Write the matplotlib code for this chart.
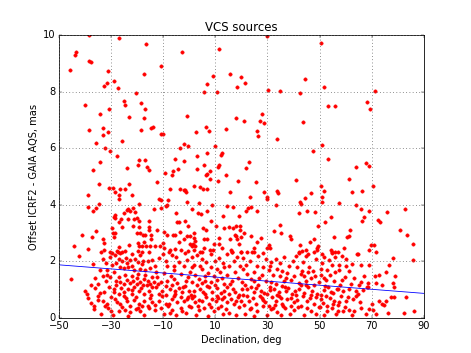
import numpy as np
import matplotlib
matplotlib.use("Agg")
import matplotlib.pyplot as plt

# (declination deg, offset mas), grouped by height band
pts_high = [
    (-38.6, 9.99), (-26.8, 9.88), (-16.5, 9.69), (-43.4, 9.40), (-43.7, 9.30), (-2.7, 9.41),
    (-38.4, 9.10), (-37.5, 9.03), (-45.6, 8.78), (-11.0, 8.91), (-31.2, 8.73), (-17.3, 8.64),
    (-28.7, 8.39), (-31.5, 8.32), (-32.7, 8.19), (-27.3, 8.11), (-20.4, 7.95), (-40.1, 7.51),
    (-25.2, 7.66), (-24.8, 7.53), (-18.5, 7.58), (-16.8, 7.39), (-30.8, 7.40), (-34.1, 7.19),
    (-23.0, 7.09), (-17.4, 7.05), (-38.3, 6.64), (-33.1, 6.71), (-31.3, 6.58), (-33.1, 6.47),
    (-18.4, 6.63), (-14.6, 6.71), (-13.8, 6.75), (-10.9, 6.49), (-9.9, 6.51), (-25.8, 6.24),
    (-35.8, 6.19), (-32.2, 5.99), (-30.4, 5.89), (-3.4, 5.99), (-2.1, 6.13), (-0.4, 6.09),
    (-27.7, 5.72), (-5.5, 5.63), (-1.9, 5.53), (-34.2, 5.51), (-19.4, 5.58), (-17.1, 5.58),
    (-19.8, 5.40), (-16.2, 5.33), (-15.6, 5.22), (-23.9, 5.31), (-36.9, 5.24), (-9.3, 5.13),
    (-6.3, 5.19), (-4.4, 5.26), (-6.5, 5.05),
    (29.7, 9.96), (11.6, 9.49), (44.3, 8.44), (15.7, 8.61), (19.9, 8.50), (9.2, 8.54),
    (21.4, 8.29), (7.0, 8.26), (18.5, 8.15), (5.5, 7.99), (10.8, 8.00), (30.2, 8.06),
    (34.7, 8.03), (42.4, 7.94), (-0.8, 7.15), (17.9, 7.08), (21.0, 6.96), (27.8, 7.20),
    (27.1, 6.96), (28.8, 6.88), (43.5, 6.91), (6.6, 6.74), (7.6, 6.62), (2.5, 6.57),
    (14.0, 6.66), (26.0, 6.62), (26.4, 6.43), (33.7, 6.34), (9.9, 6.07), (2.9, 5.72),
    (6.9, 5.82), (12.4, 5.82), (12.1, 5.76), (5.6, 5.41), (23.1, 5.52), (11.6, 5.39),
    (11.1, 5.34), (2.8, 5.27), (21.8, 5.28), (8.1, 5.20), (6.9, 5.08), (6.4, 5.05), (14.2, 5.05),
    (50.7, 9.72), (51.7, 8.16), (71.2, 8.03), (68.2, 7.62), (53.1, 7.49), (55.8, 7.49),
    (69.2, 7.39), (50.8, 6.11), (47.5, 5.89), (53.3, 5.61), (63.8, 5.34), (67.8, 5.46),
    (68.8, 5.38),
]

pts_mid = [
    (-12.3, 4.81), (-34.6, 4.72), (-30.8, 4.60), (-29.2, 4.60), (-26.4, 4.55), (-24.8, 4.54),
    (-28.4, 4.46), (-23.1, 4.72), (-7.2, 4.54), (-3.4, 4.54), (-38.7, 4.33), (-26.9, 4.34),
    (-26.9, 4.21), (-22.1, 4.33), (-11.5, 4.21), (-10.7, 4.17), (-8.3, 4.18), (-1.8, 4.51),
    (-34.6, 4.04), (-38.7, 3.93), (-37.1, 3.79), (-35.6, 3.88), (-19.3, 4.02), (-13.5, 3.85),
    (-10.9, 3.87), (-9.1, 3.95), (-8.4, 3.98), (-28.6, 3.63), (-29.0, 3.58), (-28.5, 3.54),
    (-25.2, 3.71), (-23.9, 3.82), (-23.4, 3.85), (-21.5, 3.87), (-20.8, 3.73), (-22.7, 3.77),
    (-19.9, 3.54), (-19.3, 3.41), (-26.1, 3.48), (-27.1, 3.38), (-23.3, 3.49), (-21.1, 3.48),
    (-15.3, 3.41), (-25.6, 3.22), (-21.6, 3.24), (-19.2, 3.20), (-15.4, 3.22), (-15.4, 3.11),
    (-12.4, 3.11), (-29.6, 3.16), (-4.7, 3.40), (-4.1, 3.40), (-5.0, 3.70), (-29.4, 2.99),
    (-28.6, 2.98), (-28.9, 2.86), (-41.1, 2.91), (-37.3, 2.85), (-35.9, 3.05), (-33.1, 2.79),
    (-32.8, 2.66), (-20.2, 3.01), (-18.8, 3.01), (-17.1, 2.93), (-17.6, 2.91), (-14.8, 2.92),
    (-14.7, 2.78), (-9.7, 3.04), (-8.4, 2.91), (-6.1, 2.91), (-5.4, 2.94), (-3.7, 3.04),
    (-3.9, 2.68), (-44.3, 2.54), (-38.7, 2.42), (-32.8, 2.40), (-27.1, 2.51), (-23.0, 2.56),
    (-19.6, 2.63), (-17.3, 2.67), (-18.0, 2.54), (-16.6, 2.53), (-19.2, 2.52), (-15.0, 2.52),
    (-13.0, 2.54), (-11.4, 2.54), (-10.2, 2.66), (-9.5, 2.45), (-7.2, 2.40), (-5.3, 2.44),
    (-3.2, 2.40), (-27.5, 2.34), (-25.7, 2.32), (-29.5, 2.30), (-19.7, 2.35), (-18.1, 2.34),
    (8.0, 4.92), (11.0, 4.83), (18.7, 4.83), (25.6, 4.79), (41.0, 4.87), (1.9, 4.65),
    (4.1, 4.62), (5.1, 4.57), (7.0, 4.56), (-2.0, 4.53), (-1.2, 4.46), (15.8, 4.44),
    (28.6, 4.46), (33.7, 4.50), (34.1, 4.41), (23.3, 4.27), (29.9, 4.27), (29.9, 4.21),
    (42.4, 4.10), (43.0, 4.01), (-0.9, 4.10), (3.9, 4.07), (0.9, 3.85), (3.4, 3.70),
    (4.7, 3.66), (6.9, 3.77), (8.7, 3.98), (14.4, 3.95), (16.9, 3.91), (21.8, 3.79),
    (22.5, 3.87), (23.7, 3.93), (26.0, 3.79), (33.2, 4.00), (42.2, 3.70), (12.9, 3.61),
    (19.0, 3.59), (-1.6, 3.43), (8.4, 3.41), (-0.4, 3.25), (10.2, 3.25), (5.2, 3.18),
    (13.5, 3.18), (15.2, 3.20), (16.9, 3.19), (18.1, 3.25), (19.6, 3.25), (1.9, 3.00),
    (6.5, 3.12), (19.4, 3.11), (20.9, 3.01), (34.7, 3.27), (35.1, 3.01), (32.5, 3.06),
    (17.7, 2.93), (18.1, 2.88), (19.8, 2.85), (23.8, 2.88), (27.6, 2.83), (0.1, 2.88),
    (-0.7, 2.90), (-2.2, 2.78), (1.8, 2.83), (2.3, 2.73), (5.6, 2.79), (6.8, 2.78),
    (11.4, 2.83), (15.6, 2.80), (18.4, 2.77), (38.7, 2.88), (39.0, 2.79), (0.1, 2.61),
    (1.5, 2.59), (2.2, 2.54), (0.9, 2.52), (9.6, 2.60), (11.5, 2.59), (12.5, 2.47),
    (19.0, 2.62), (26.1, 2.68), (30.6, 2.56), (31.1, 2.45), (29.7, 2.47), (24.8, 2.48),
    (42.5, 2.58), (43.3, 2.35), (42.2, 2.29), (8.1, 2.38), (9.3, 2.38), (4.3, 2.33),
    (1.8, 2.38), (-0.4, 2.37), (15.9, 2.40), (16.4, 2.33), (20.0, 2.32), (24.0, 2.33),
    (5.7, 2.45),
    (61.4, 4.89), (50.5, 4.65), (51.7, 4.48), (62.3, 4.44), (66.2, 4.47), (70.6, 4.67),
    (46.8, 4.40), (44.3, 4.23), (51.0, 4.27), (50.9, 4.08), (57.3, 4.07), (63.9, 3.97),
    (65.9, 3.84), (68.8, 3.78), (75.8, 3.75), (82.6, 3.83), (45.1, 3.76), (48.2, 3.75),
    (54.3, 3.55), (67.1, 3.57), (66.1, 3.43), (72.5, 3.45), (73.1, 3.39), (52.2, 3.37),
    (49.3, 3.25), (80.7, 3.10), (83.4, 2.94), (61.6, 3.10), (61.2, 2.88), (60.6, 2.84),
    (55.4, 2.87), (47.7, 2.80), (46.3, 2.67), (49.5, 2.52), (49.0, 2.46), (44.8, 2.41),
    (49.0, 2.39), (54.3, 2.39), (54.7, 2.30), (55.9, 2.34), (59.2, 2.47), (69.6, 2.56),
    (70.7, 2.56), (68.9, 2.39), (71.5, 2.33), (86.0, 2.61), (64.4, 2.27), (45.4, 2.27),
    (51.0, 2.26),
]

pts_low = [
    (-42.3, 2.20), (-33.7, 2.33), (-30.5, 2.34), (-27.7, 2.35), (-26.4, 2.28), (-24.8, 2.35),
    (-18.8, 2.23), (-15.6, 2.33), (-30.3, 2.16), (-33.1, 2.06), (-37.1, 1.90), (-29.6, 1.85),
    (-27.1, 2.06), (-25.8, 2.02), (-24.4, 2.12), (-22.6, 2.05), (-20.7, 2.08), (-19.8, 1.96),
    (-17.8, 2.01), (-16.0, 2.02), (-14.3, 2.05), (-26.7, 1.81), (-25.2, 1.76), (-23.3, 1.81),
    (-22.0, 1.84), (-21.1, 1.67), (-18.8, 1.71), (-16.9, 1.67), (-15.0, 1.76), (-34.1, 1.67),
    (-33.1, 1.49), (-31.5, 1.52), (-30.3, 1.43), (-31.9, 1.31), (-45.3, 1.36), (-27.1, 1.43),
    (-26.4, 1.25), (-25.2, 1.19), (-23.9, 1.34), (-22.6, 1.22), (-21.4, 1.29), (-20.1, 1.19),
    (-18.8, 1.25), (-17.5, 1.37), (-16.0, 1.31), (-15.0, 1.19), (-13.7, 1.25), (-36.0, 1.05),
    (-39.9, 0.93), (-39.2, 0.84), (-32.8, 0.90), (-29.0, 0.90), (-27.1, 0.84), (-25.2, 0.90),
    (-23.3, 1.02), (-22.0, 0.84), (-19.4, 0.96), (-17.5, 0.84), (-15.6, 0.96), (-14.3, 1.07),
    (-37.7, 0.51), (-36.4, 0.43), (-33.1, 0.60), (-31.5, 0.49), (-28.4, 0.66), (-26.4, 0.49),
    (-23.9, 0.60), (-22.6, 0.43), (-21.1, 0.63), (-19.4, 0.49), (-17.5, 0.60), (-16.0, 0.43),
    (-14.3, 0.54), (-27.1, 0.25), (-24.5, 0.27), (-18.8, 0.22), (-15.6, 0.34), (-22.6, 0.19),
    (-35.0, 1.19),
    (-10.1, 2.26), (-7.8, 2.34), (-5.0, 2.14), (-1.8, 2.28), (1.1, 2.16), (5.0, 2.34),
    (5.0, 2.08), (8.2, 2.26), (11.4, 2.12), (16.5, 2.32), (18.4, 2.14), (19.7, 2.34),
    (-8.4, 1.84), (-5.9, 1.82), (-2.0, 1.84), (1.1, 1.78), (1.8, 1.88), (4.3, 1.84),
    (5.0, 1.73), (8.2, 1.81), (10.7, 1.73), (13.3, 1.78), (15.2, 1.82), (19.3, 1.84),
    (-12.3, 1.43), (-8.4, 1.31), (-5.9, 1.37), (-4.6, 1.22), (-1.4, 1.31), (1.1, 1.25),
    (3.7, 1.37), (6.2, 1.29), (8.2, 1.25), (10.7, 1.34), (13.3, 1.19), (16.5, 1.31),
    (20.3, 1.25), (-12.9, 1.07), (-10.4, 0.96), (-7.2, 1.02), (-5.3, 0.84), (-2.7, 0.90),
    (-0.1, 0.96), (1.8, 0.78), (4.3, 1.02), (6.2, 0.84), (8.8, 0.90), (10.7, 0.78),
    (13.3, 0.96), (15.2, 0.84), (17.7, 0.90), (20.3, 1.02), (-11.6, 0.60), (-9.1, 0.49),
    (-6.5, 0.66), (-4.6, 0.54), (-2.0, 0.60), (-0.1, 0.43), (2.4, 0.54), (5.0, 0.60),
    (7.5, 0.49), (10.1, 0.60), (12.0, 0.43), (14.5, 0.54), (17.1, 0.49), (19.7, 0.60),
    (-6.5, 0.27), (-2.7, 0.22), (3.7, 0.27), (9.4, 0.25), (15.2, 0.15),
    (22.1, 2.34), (24.9, 2.32), (28.1, 2.28), (29.4, 2.08), (33.2, 2.08), (36.4, 2.14),
    (42.1, 2.32), (44.7, 2.20), (47.9, 2.34), (51.7, 2.16), (54.9, 2.32), (21.7, 1.88),
    (26.1, 1.84), (28.1, 1.78), (30.6, 1.67), (33.8, 1.73), (35.7, 1.64), (38.3, 1.84),
    (41.5, 1.78), (43.4, 1.64), (46.0, 1.81), (50.4, 1.73), (53.0, 1.69), (54.9, 1.88),
    (23.6, 1.37), (26.8, 1.41), (31.3, 1.25), (33.2, 1.19), (36.4, 1.29), (38.9, 1.34),
    (42.1, 1.22), (44.7, 1.31), (46.6, 1.41), (49.8, 1.25), (52.3, 1.34), (55.5, 1.29),
    (22.3, 1.02), (24.9, 0.90), (27.4, 0.96), (30.0, 0.84), (32.5, 1.02), (34.5, 0.90),
    (37.0, 0.96), (39.5, 0.84), (42.1, 1.02), (44.0, 0.86), (47.2, 0.96), (49.1, 0.84),
    (51.7, 0.98), (54.2, 0.90), (56.5, 1.02), (23.0, 0.60), (25.5, 0.49), (28.1, 0.63),
    (30.6, 0.43), (33.2, 0.60), (35.7, 0.49), (37.6, 0.66), (40.2, 0.54), (42.8, 0.43),
    (45.3, 0.60), (47.9, 0.49), (50.4, 0.66), (53.0, 0.43), (55.5, 0.60), (26.1, 0.25),
    (33.8, 0.19), (40.2, 0.27), (46.6, 0.22), (53.0, 0.25), (31.3, 0.31),
    (56.9, 2.32), (60.1, 2.09), (64.6, 2.26), (78.2, 2.12), (85.7, 2.05), (57.5, 1.88),
    (60.1, 1.84), (62.4, 1.90), (65.9, 1.88), (69.0, 1.88), (76.7, 1.88), (57.5, 1.69),
    (61.1, 1.64), (59.8, 1.45), (75.4, 1.62), (72.6, 1.52), (71.3, 1.49), (78.8, 1.49),
    (65.9, 1.25), (65.2, 1.16), (68.4, 1.23), (68.0, 1.10), (71.8, 1.22), (74.1, 1.16),
    (78.6, 1.10), (78.2, 1.22), (56.9, 1.02), (58.8, 0.96), (61.4, 1.02), (63.9, 0.93),
    (66.5, 0.98), (68.4, 1.07), (58.2, 0.78), (60.8, 0.72), (60.1, 0.60), (57.5, 0.54),
    (65.5, 0.54), (72.9, 0.60), (74.1, 0.49), (75.4, 0.60), (74.8, 0.46), (77.3, 0.72),
    (78.6, 0.72), (83.1, 0.72), (56.9, 0.25), (58.8, 0.22), (61.4, 0.27), (63.3, 0.25),
    (67.8, 0.13), (70.3, 0.27), (71.6, 0.13), (76.1, 0.15), (82.4, 0.15), (86.3, 0.22),
]

# extra points in the crowded band below ~2.3 mas
pts_dense = [
    (-36.5, 0.30), (-33.8, 0.12), (-31.0, 0.35), (-29.2, 0.08), (-25.9, 0.38), (-23.4, 0.05),
    (-20.6, 0.32), (-17.2, 0.10), (-13.1, 0.28), (-11.0, 0.36), (-9.8, 0.12), (-8.2, 0.40),
    (-4.9, 0.09), (-3.3, 0.35), (-1.1, 0.18), (0.8, 0.38), (2.6, 0.10), (5.8, 0.33),
    (7.1, 0.07), (11.2, 0.36), (12.9, 0.12), (14.0, 0.30), (17.8, 0.08), (19.2, 0.37),
    (21.5, 0.14), (23.8, 0.34), (25.0, 0.06), (28.4, 0.40), (29.9, 0.11), (32.1, 0.36),
    (35.2, 0.09), (36.8, 0.33), (38.5, 0.14), (41.6, 0.38), (43.9, 0.08), (45.2, 0.35),
    (48.6, 0.12), (50.3, 0.37), (51.8, 0.09), (54.6, 0.33), (56.2, 0.14), (59.7, 0.38),
    (62.5, 0.08), (65.8, 0.35), (69.1, 0.30),
    (-38.8, 0.70), (-35.0, 0.76), (-32.3, 0.42), (-29.9, 0.74), (-27.6, 0.55), (-25.0, 0.78),
    (-20.3, 0.74), (-18.1, 0.41), (-15.2, 0.70), (-13.0, 0.45), (-10.3, 0.75), (-7.7, 0.47),
    (-5.9, 0.78), (-3.1, 0.72), (-1.0, 0.66), (1.2, 0.70), (3.4, 0.41), (6.3, 0.74),
    (8.9, 0.66), (11.0, 0.70), (13.4, 0.73), (16.0, 0.66), (18.6, 0.74), (21.0, 0.45),
    (22.2, 0.77), (24.3, 0.70), (27.0, 0.76), (29.2, 0.55), (31.6, 0.72), (34.4, 0.76),
    (36.0, 0.42), (38.9, 0.71), (41.2, 0.64), (43.6, 0.76), (46.2, 0.70), (48.8, 0.72),
    (51.3, 0.52), (52.6, 0.78), (54.0, 0.70), (57.2, 0.44), (62.8, 0.66), (64.0, 0.78),
    (70.0, 0.50),
    (-37.5, 1.15), (-34.2, 0.86), (-30.8, 1.10), (-28.1, 1.16), (-26.0, 1.06), (-21.0, 1.10),
    (-18.5, 1.05), (-16.3, 1.15), (-11.5, 0.84), (-9.0, 1.12), (-6.6, 1.16), (-4.0, 1.05),
    (-1.5, 1.13), (0.6, 0.82), (3.0, 1.15), (5.3, 0.92), (7.4, 1.08), (9.9, 1.14),
    (12.2, 0.88), (14.6, 1.10), (16.9, 1.03), (19.0, 0.80), (21.4, 1.14), (23.7, 1.08),
    (26.2, 1.14), (28.8, 0.87), (31.0, 1.10), (33.6, 0.82), (35.6, 1.12), (38.0, 1.06),
    (40.6, 0.95), (43.0, 1.14), (45.6, 1.08), (48.0, 1.16), (50.5, 0.82), (53.3, 1.10),
    (55.2, 0.86), (58.0, 1.15), (62.0, 1.18), (64.7, 0.84),
    (-36.2, 1.40), (-29.0, 1.62), (-28.0, 1.30), (-24.5, 1.52), (-22.0, 1.46), (-19.5, 1.56),
    (-17.0, 1.50), (-14.4, 1.45), (-11.0, 1.26), (-9.6, 1.58), (-7.0, 1.48), (-3.2, 1.55),
    (-0.6, 1.45), (2.3, 1.52), (4.8, 1.22), (7.2, 1.58), (9.6, 1.46), (11.9, 1.62),
    (14.4, 1.50), (17.5, 1.60), (18.8, 1.40), (22.0, 1.55), (24.8, 1.62), (27.8, 1.50),
    (29.5, 1.30), (32.0, 1.52), (34.9, 1.46), (37.5, 1.58), (40.3, 1.48), (42.8, 1.55),
    (45.5, 1.60), (48.2, 1.48), (50.6, 1.52), (53.8, 1.50), (56.0, 1.60), (58.6, 1.32),
    (63.0, 1.40), (67.0, 1.48),
    (-32.0, 1.95), (-28.5, 2.22), (-23.8, 1.92), (-21.8, 2.24), (-18.0, 1.90), (-13.2, 1.82),
    (-11.5, 2.10), (-9.0, 2.00), (-6.7, 2.22), (-3.9, 1.98), (-0.8, 2.05), (2.8, 2.22),
    (6.6, 1.96), (9.8, 2.02), (12.8, 1.94), (14.3, 2.25), (17.0, 2.00), (20.5, 2.10),
    (23.2, 2.00), (26.5, 2.18), (31.5, 1.96), (35.0, 1.92), (39.8, 2.02), (41.0, 2.20),
    (43.8, 1.96), (48.8, 2.06), (51.0, 1.92), (53.5, 2.05), (56.0, 2.15), (58.5, 2.20),
    (-34.9, 0.62), (-30.1, 0.22), (-28.7, 1.00), (-24.2, 0.70), (-21.9, 0.98), (-19.8, 0.33),
    (-17.8, 1.15), (-14.8, 0.80), (-12.0, 1.20), (-8.9, 0.80), (-7.4, 0.18), (-5.6, 0.95),
    (-2.4, 1.08), (-0.6, 0.72), (2.0, 0.95), (3.8, 0.62), (6.9, 1.12), (8.4, 0.38),
    (10.5, 1.05), (12.6, 0.65), (15.8, 1.20), (18.0, 0.58), (20.6, 0.82), (23.4, 0.30),
    (25.6, 1.05), (27.9, 0.70), (30.8, 0.98), (32.9, 0.46), (35.1, 0.70), (36.9, 1.10),
    (39.2, 0.40), (41.0, 0.80), (44.6, 1.16), (46.7, 0.80), (49.7, 0.38), (52.0, 1.12),
    (55.0, 0.50), (-31.6, 1.70), (-27.9, 1.95), (-20.0, 1.40), (-12.8, 1.62), (-6.0, 1.70),
    (0.2, 1.62), (5.9, 1.46), (12.5, 1.40), (20.8, 1.72), (25.0, 1.30), (31.0, 1.82),
    (37.0, 1.42), (44.0, 1.48), (47.5, 1.65), (51.8, 1.42),
]

# linear trend drawn in blue
fit_dec = [-50, 90]
fit_off = [1.87, 0.86]

plt.style.use("classic")
fig = plt.figure(figsize=(8, 6), dpi=58.875)
ax = fig.add_subplot(111)

for pts in (pts_high, pts_mid, pts_low, pts_dense):
    arr = np.array(pts)
    ax.plot(arr[:, 0], arr[:, 1], "o", color="red", mec="red", ms=4.2)

ax.plot(fit_dec, fit_off, "-", color="blue", lw=1.0)

ax.set_xlim(-50, 90)
ax.set_ylim(0, 10)
ax.set_xticks(np.arange(-50, 91, 20))
ax.set_yticks(np.arange(0, 11, 2))
ax.grid(True, color="0.4", linestyle=":", linewidth=1)
ax.set_title("VCS sources")
ax.set_xlabel("Declination, deg")
ax.set_ylabel("Offset ICRF2 - GAIA AQS, mas")

fig.savefig("out.png", dpi=58.875)
